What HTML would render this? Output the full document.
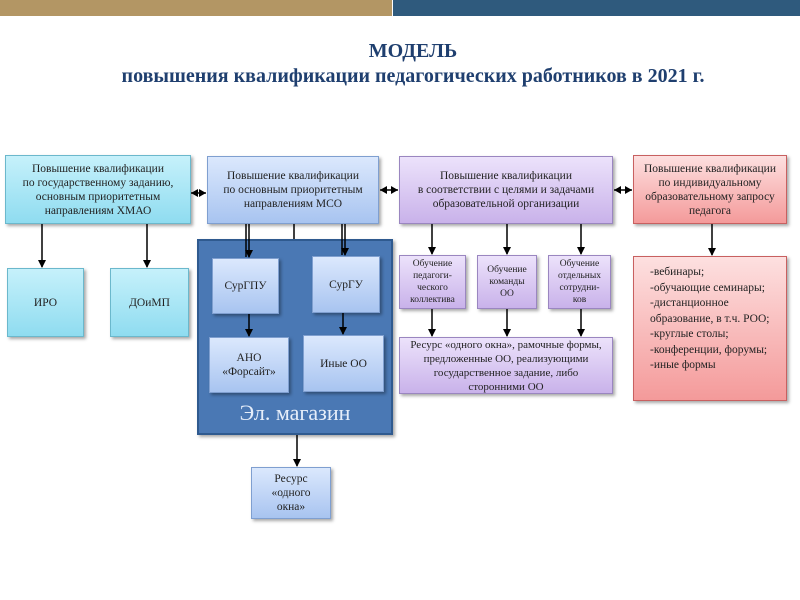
<!DOCTYPE html>
<html><head><meta charset="utf-8"><style>
body{margin:0;width:800px;height:600px;background:#fff;position:relative;overflow:hidden;font-family:"Liberation Serif","Noto Serif CJK SC",serif;}
.b{position:absolute;box-sizing:border-box;display:flex;align-items:center;justify-content:center;text-align:center;color:#222;font-size:11.5px;line-height:14px;box-shadow:2px 2px 3px rgba(0,0,0,0.35);}
.c{background:linear-gradient(#c6f1fb,#8fdcf0);border:1px solid #6bb8cc;}
.l{background:linear-gradient(#dbe8fd,#a8c4f0);border:1px solid #7f9fd0;}
.p{background:linear-gradient(#ece2fb,#c9b2ea);border:1px solid #9a86c0;}
.r{background:linear-gradient(#fde0e0,#f49a9a);border:1px solid #c86060;}
.s{font-size:9.5px;line-height:12px;}
svg{position:absolute;left:0;top:0}
</style></head><body>
<div style="position:absolute;left:0;top:0;width:392px;height:16px;background:#b39664"></div>
<div style="position:absolute;left:393px;top:0;width:407px;height:16px;background:#2f5a7d"></div>
<div style="position:absolute;left:0;top:39px;width:826px;text-align:center;color:#1f3f6f;font-weight:bold;font-size:20px;line-height:25px">МОДЕЛЬ<br>повышения квалификации педагогических работников в 2021 г.</div>

<div style="position:absolute;left:197px;top:239px;width:196px;height:196px;background:#4a78b4;border:2px solid #2f5a8f;box-sizing:border-box;box-shadow:2px 2px 3px rgba(0,0,0,0.35)"></div>
<div style="position:absolute;left:197px;top:400px;width:196px;text-align:center;color:#e6eefa;font-size:22px">Эл. магазин</div>

<div class="b c" style="left:5px;top:155px;width:186px;height:69px">Повышение квалификации<br>по государственному заданию,<br>основным приоритетным<br>направлениям ХМАО</div>
<div class="b c" style="left:7px;top:268px;width:77px;height:69px">ИРО</div>
<div class="b c" style="left:110px;top:268px;width:79px;height:69px">ДОиМП</div>

<div class="b l" style="left:207px;top:156px;width:172px;height:68px">Повышение квалификации<br>по основным приоритетным<br>направлениям МСО</div>
<div class="b l" style="left:212px;top:258px;width:67px;height:56px">СурГПУ</div>
<div class="b l" style="left:312px;top:256px;width:68px;height:57px">СурГУ</div>
<div class="b l" style="left:209px;top:337px;width:80px;height:56px">АНО<br>«Форсайт»</div>
<div class="b l" style="left:303px;top:335px;width:81px;height:57px">Иные ОО</div>
<div class="b l" style="left:251px;top:467px;width:80px;height:52px">Ресурс<br>«одного<br>окна»</div>

<div class="b p" style="left:399px;top:156px;width:214px;height:68px">Повышение квалификации<br>в соответствии с целями и задачами<br>образовательной организации</div>
<div class="b p s" style="left:399px;top:255px;width:67px;height:54px">Обучение<br>педагоги-<br>ческого<br>коллектива</div>
<div class="b p s" style="left:477px;top:255px;width:60px;height:54px">Обучение<br>команды<br>ОО</div>
<div class="b p s" style="left:548px;top:255px;width:63px;height:54px">Обучение<br>отдельных<br>сотрудни-<br>ков</div>
<div class="b p" style="left:399px;top:337px;width:214px;height:57px;font-size:11px">Ресурс «одного окна», рамочные формы,<br>предложенные ОО, реализующими<br>государственное задание, либо<br>сторонними ОО</div>

<div class="b r" style="left:633px;top:155px;width:154px;height:69px">Повышение квалификации<br>по индивидуальному<br>образовательному запросу<br>педагога</div>
<div class="b r" style="left:633px;top:256px;width:154px;height:145px;align-items:flex-start;justify-content:flex-start;text-align:left;padding:8px 0 0 16px;line-height:15.5px">-вебинары;<br>-обучающие семинары;<br>-дистанционное<br>образование, в т.ч. РОО;<br>-круглые столы;<br>-конференции, форумы;<br>-иные формы</div>

<svg width="800" height="600">
<defs><marker id="a" markerWidth="8" markerHeight="8" refX="7" refY="4" orient="auto" markerUnits="userSpaceOnUse"><path d="M0,0L8,4L0,8z" fill="#000"/></marker></defs>
<g stroke="#000" stroke-width="1.5" fill="none">
<line x1="42" y1="224" x2="42" y2="267" marker-end="url(#a)"/>
<line x1="147" y1="224" x2="147" y2="267" marker-end="url(#a)"/>
<line x1="246" y1="224" x2="246" y2="257"/>
<line x1="249" y1="224" x2="249" y2="257" marker-end="url(#a)"/>
<line x1="342" y1="224" x2="342" y2="255"/>
<line x1="345" y1="224" x2="345" y2="255" marker-end="url(#a)"/>
<line x1="294" y1="224" x2="294" y2="239"/>
<line x1="249" y1="314" x2="249" y2="336" marker-end="url(#a)"/>
<line x1="343" y1="313" x2="343" y2="334" marker-end="url(#a)"/>
<line x1="297" y1="435" x2="297" y2="466" marker-end="url(#a)"/>
<line x1="432" y1="224" x2="432" y2="254" marker-end="url(#a)"/>
<line x1="507" y1="224" x2="507" y2="254" marker-end="url(#a)"/>
<line x1="581" y1="224" x2="581" y2="254" marker-end="url(#a)"/>
<line x1="432" y1="309" x2="432" y2="336" marker-end="url(#a)"/>
<line x1="507" y1="309" x2="507" y2="336" marker-end="url(#a)"/>
<line x1="581" y1="309" x2="581" y2="336" marker-end="url(#a)"/>
<line x1="712" y1="224" x2="712" y2="255" marker-end="url(#a)"/>
<line x1="191" y1="193" x2="206" y2="193"/><line x1="380" y1="190" x2="398" y2="190"/><line x1="614" y1="190" x2="632" y2="190"/>
</g>
<g fill="#000">
<path d="M191,193l7,-4v8z"/><path d="M206,193l-7,-4v8z"/>
<path d="M380,190l7,-4v8z"/><path d="M398,190l-7,-4v8z"/>
<path d="M614,190l7,-4v8z"/><path d="M632,190l-7,-4v8z"/>
</g>
</svg>
</body></html>
